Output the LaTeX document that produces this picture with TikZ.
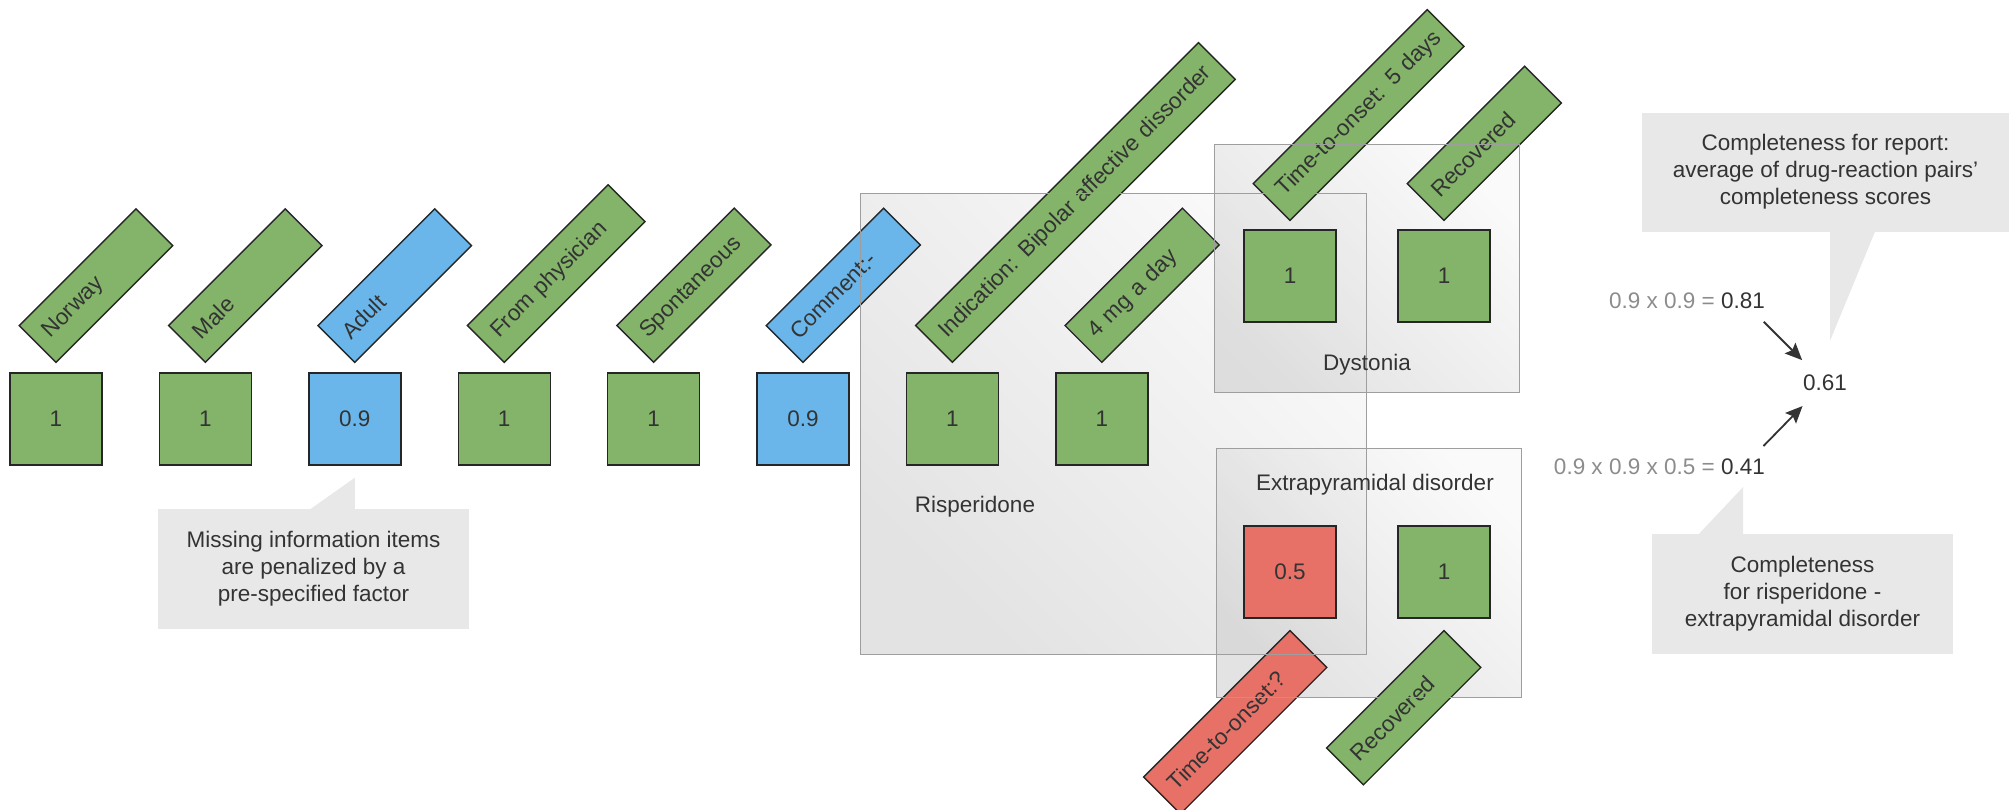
\documentclass[tikz,border=0pt]{standalone}
\usepackage{fontspec}
\setmainfont{Liberation Sans}
\usepackage{tikz}
\usetikzlibrary{arrows.meta}
\usetikzlibrary{positioning}

\definecolor{okgreen}{HTML}{83B469}
\definecolor{partblue}{HTML}{6AB6EA}
\definecolor{missred}{HTML}{E87167}
\definecolor{ink}{HTML}{333333}
\definecolor{faded}{HTML}{8C8C8C}
\definecolor{bubblegray}{HTML}{E8E8E8}

\pgfdeclarelayer{groups}
\pgfdeclarelayer{tags}
\pgfdeclarelayer{frames}
\pgfsetlayers{groups,tags,frames,main}

\tikzstyle{score} = [rectangle, draw=black!85, line width=1.4pt, text=ink,
    minimum width=92pt, minimum height=92pt, inner sep=0pt]
\tikzstyle{tag} = [rectangle, draw=black!85, line width=1.4pt, text=ink,
    rotate=45, anchor=south west, minimum height=52pt, inner xsep=13pt,
    inner ysep=0pt, align=left]
\tikzstyle{group} = [rectangle, top color=black!4, bottom color=black!22,
    shading angle=-45, fill opacity=0.5, inner sep=0pt]
\tikzstyle{frame} = [draw=black!38, line width=1.2pt]
\tikzstyle{bubble} = [rectangle, fill=bubblegray, text=ink, align=center, inner sep=0pt]
\tikzstyle{val} = [inner xsep=3pt, inner ysep=2pt, text=ink]
\tikzstyle{link} = [->, draw=ink, line width=1.8pt, shorten <=15pt, shorten >=18pt]

\begin{document}
\begin{tikzpicture}[x=1pt,y=1pt,node distance=149.4pt,
                    font=\fontsize{22.5}{27}\selectfont,
                    >={Stealth[length=17pt,width=15pt,inset=3pt]}]

  \useasboundingbox (0,0) rectangle (2011,-809);

  \node[score, fill=okgreen]  (s1) at (56,-419) {1};
  \node[score, fill=okgreen]  (s2) [right of=s1] {1};
  \node[score, fill=partblue] (s3) [right of=s2] {0.9};
  \node[score, fill=okgreen]  (s4) [right of=s3] {1};
  \node[score, fill=okgreen]  (s5) [right of=s4] {1};
  \node[score, fill=partblue] (s6) [right of=s5] {0.9};
  \node[score, fill=okgreen]  (s7) [right of=s6] {1};
  \node[score, fill=okgreen]  (s8) [right of=s7] {1};

  \node[score, fill=okgreen]  (d1) at (1290,-276) {1};
  \node[score, fill=okgreen, node distance=154pt] (d2) [right of=d1] {1};
  \node[score, fill=missred]  (e1) at (1290,-572) {0.5};
  \node[score, fill=okgreen, node distance=154pt] (e2) [right of=e1] {1};

  \begin{pgfonlayer}{tags}
  \node[tag, fill=okgreen,  text width=139pt] (t1) at ([yshift=9pt]s1.north) {Norway};
  \node[tag, fill=okgreen,  text width=139pt] (t2) at ([yshift=9pt]s2.north) {Male};
  \node[tag, fill=partblue, text width=139pt] (t3) at ([yshift=9pt]s3.north) {Adult};
  \node[tag, fill=okgreen,  text width=173pt] (t4) at ([yshift=9pt]s4.north) {From physician};
  \node[tag, fill=okgreen,  text width=140pt] (t5) at ([yshift=9pt]s5.north) {Spontaneous};
  \node[tag, fill=partblue, text width=140pt] (t6) at ([yshift=9pt]s6.north) {Comment:-};
  \node[tag, fill=okgreen,  text width=374pt] (t7) at ([yshift=9pt]s7.north) {\mbox{Indication: Bipolar affective dissorder}};
  \node[tag, fill=okgreen,  text width=140pt] (t8) at ([yshift=9pt]s8.north) {4 mg a day};
  \node[tag, fill=okgreen,  text width=220pt] (td1) at ([yshift=8pt]d1.north) {\mbox{Time-to-onset: 5 days}};
  \node[tag, fill=okgreen,  text width=140pt] (td2) at ([yshift=8pt]d2.north) {Recovered};
  \node[tag, fill=missred,  text width=181pt, anchor=north east] (te1) at ([yshift=-11pt]e1.south) {\mbox{Time-to-onset:?}};
  \node[tag, fill=okgreen,  text width=140pt, anchor=north east] (te2) at ([yshift=-11pt]e2.south) {Recovered};
  \end{pgfonlayer}

  \begin{pgfonlayer}{groups}
  \node[group, minimum width=505pt, minimum height=460pt] (risp) at (1113.5,-424) {};
  \node[group, minimum width=304pt, minimum height=247pt] (dyst) at (1367,-268.5) {};
  \node[group, minimum width=304pt, minimum height=248pt] (epd) at (1369,-573) {};
  \end{pgfonlayer}

  \begin{pgfonlayer}{frames}
  \draw[frame] (risp.south west) rectangle (risp.north east);
  \draw[frame] (dyst.south west) rectangle (dyst.north east);
  \draw[frame] (epd.south west) rectangle (epd.north east);
  \end{pgfonlayer}

  \node[text=ink] (rlab) at (975,-507) {Risperidone};
  \node[text=ink] (dlab) at (1367,-365) {Dystonia};
  \node[text=ink] (elab) at (1375,-485) {Extrapyramidal disorder};

  \node[bubble, minimum width=311pt, minimum height=120pt] (miss) at (313.5,-569)
    {Missing information items\\are penalized by a\\pre-specified factor};
  \fill[bubblegray] ([yshift=-12pt]s3.south) -- (miss.north -| s3.south) -- ++(-44,0) -- cycle;

  \node[val] (total) at (1825,-383) {0.61};
  \node[val] (v81) at (1743,-301) {0.81};
  \node[val, text=faded, left=0pt of v81] (f81) {0.9 x 0.9 =};
  \node[val] (v41) at (1743,-467) {0.41};
  \node[val, text=faded, left=0pt of v41] (f41) {0.9 x 0.9 x 0.5 =};

  \node[bubble, minimum width=367pt, minimum height=119pt] (sum) at (1825.5,-172)
    {Completeness for report:\\average of drug-reaction pairs’\\completeness scores};
  \coordinate (tip1) at ([xshift=5pt,yshift=32pt]total.north);
  \fill[bubblegray] (tip1) -- (tip1 |- sum.south) -- ++(45,0) -- cycle;

  \node[bubble, minimum width=301pt, minimum height=120pt] (pair) at (1802.5,-594)
    {Completeness\\for risperidone -\\extrapyramidal disorder};
  \coordinate (tip2) at ([yshift=-10pt]v41.south);
  \fill[bubblegray] (tip2) -- (tip2 |- pair.north) -- ++(-44,0) -- cycle;

  \draw[link] (v81) -- (total);
  \draw[link] (v41) -- (total);
\end{tikzpicture}
\end{document}
